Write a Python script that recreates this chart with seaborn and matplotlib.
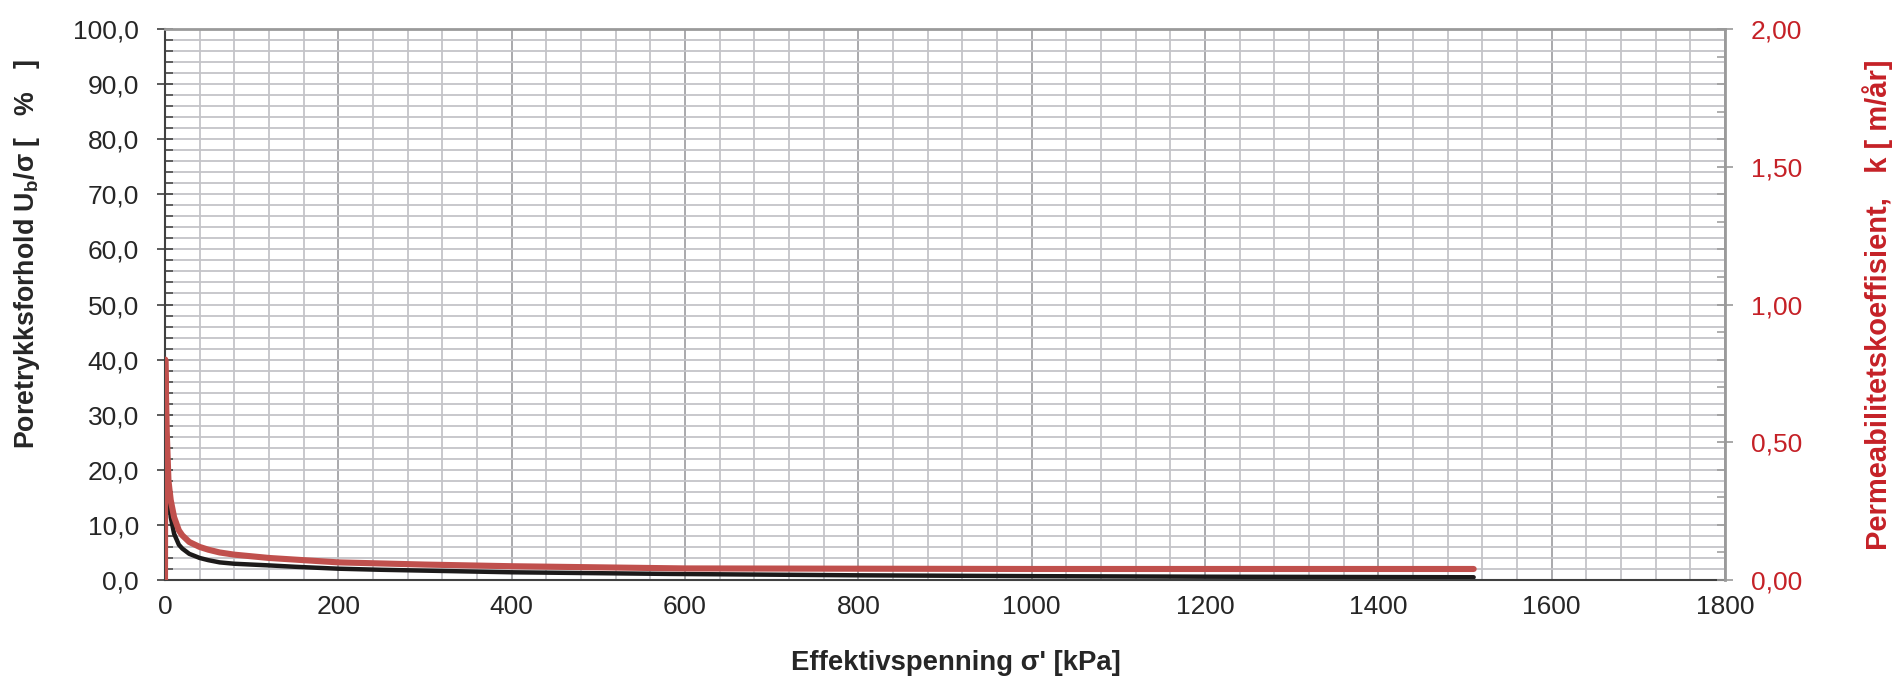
import matplotlib
matplotlib.use("Agg")
import matplotlib.pyplot as plt
import numpy as np
import pandas as pd
import seaborn as sns
from matplotlib.ticker import MultipleLocator, FuncFormatter

# ---- data ----
sigma_pore = [1.5, 3.8, 6.6, 10.5, 16, 20, 28, 40, 50, 63, 80, 100, 120, 150, 200, 250, 300, 400,
              583, 800, 1000, 1200, 1510]
pore_ratio = [18.0, 16.0, 11.4, 8.4, 6.4, 5.7, 4.75, 4.0, 3.6, 3.2, 2.95, 2.8, 2.65, 2.4, 2.05, 1.85,
              1.7, 1.4, 1.1, 0.85, 0.7, 0.6, 0.5]

sigma_perm = [0, 0.3, 2, 4, 6.6, 10.5, 16, 20, 28, 40, 50, 63, 80, 100, 120, 150, 200, 250, 300,
              400, 600, 800, 1000, 1200, 1510]
perm_k = [0.0, 0.80, 0.54, 0.36, 0.29, 0.228, 0.18, 0.162, 0.138, 0.12, 0.11, 0.100, 0.092, 0.086,
          0.080, 0.074, 0.064, 0.060, 0.056, 0.050, 0.042, 0.041, 0.040, 0.040, 0.040]

x_ticks = [0, 200, 400, 600, 800, 1000, 1200, 1400, 1600, 1800]
left_ticks = [0, 10, 20, 30, 40, 50, 60, 70, 80, 90, 100]
right_ticks = [0.0, 0.5, 1.0, 1.5, 2.0]

x_label = "Effektivspenning σ' [kPa]"
left_label = r"Poretrykksforhold U$_\mathbf{b}$/σ [   %   ]"
right_label = "Permeabilitetskoeffisient,   k [ m/år]"

df_pore = pd.DataFrame({"sigma": sigma_pore, "ratio": pore_ratio})
df_perm = pd.DataFrame({"sigma": sigma_perm, "k": perm_k})

sns.set_style("white")
plt.rcParams['font.family'] = ['Liberation Sans', 'DejaVu Sans']
plt.rcParams['mathtext.fontset'] = 'custom'
plt.rcParams['mathtext.rm'] = 'Liberation Sans'
plt.rcParams['mathtext.bf'] = 'Liberation Sans:bold'

RED_LINE = '#C0504D'
RED_TEXT = '#C52127'
DARK = '#262626'
GRID = '#C4C4C8'
GRID_MAJ = '#A3A3A6'

fig = plt.figure(figsize=(18.95, 6.8), dpi=100)
ax = fig.add_axes([165 / 1895, 1 - 580 / 680, (1725 - 165) / 1895, (580 - 29) / 680])
ax2 = ax.twinx()

sns.lineplot(data=df_pore, x="sigma", y="ratio", ax=ax, color='#1c1a1a', lw=3.2,
             sort=False, estimator=None, solid_capstyle='round', solid_joinstyle='round')
sns.lineplot(data=df_perm, x="sigma", y="k", ax=ax2, color=RED_LINE, lw=4.4,
             sort=False, estimator=None, solid_capstyle='round', solid_joinstyle='round')

ax.set_xlim(0, 1800)
ax.set_ylim(0, 100)
ax2.set_ylim(0, 2)

ax.set_xticks(x_ticks)
ax.set_yticks(left_ticks)
ax2.set_yticks(right_ticks)
ax.xaxis.set_minor_locator(MultipleLocator(40))
ax.yaxis.set_minor_locator(MultipleLocator(2))
ax2.yaxis.set_minor_locator(MultipleLocator(0.1))

ax.xaxis.set_major_formatter(FuncFormatter(lambda v, p: f"{v:.0f}"))
ax.yaxis.set_major_formatter(FuncFormatter(lambda v, p: f"{v:.1f}".replace('.', ',')))
ax2.yaxis.set_major_formatter(FuncFormatter(lambda v, p: f"{v:.2f}".replace('.', ',')))

# grid
ax.set_axisbelow(True)
ax.grid(which='minor', color=GRID, lw=1.3)
ax.grid(which='major', axis='y', color=GRID, lw=1.3)
ax.grid(which='major', axis='x', color=GRID_MAJ, lw=1.3)
ax2.grid(False)

# ticks
ax.tick_params(axis='both', which='major', direction='inout', length=11.5, width=1.2,
               color='#404040', labelcolor=DARK, labelsize=19)
ax.tick_params(axis='y', which='major', pad=13)
ax.tick_params(axis='x', which='major', pad=5)
ax.tick_params(axis='both', which='minor', direction='in', length=5.5, width=1.1, color='#404040')
ax2.tick_params(axis='y', which='major', direction='inout', length=11.5, width=1.2,
                color='#9a9a9a', labelcolor=RED_TEXT, labelsize=19, pad=13)
ax2.tick_params(axis='y', which='minor', direction='in', length=5.5, width=1.1, color='#9a9a9a')

# spines
for s in ['left', 'bottom']:
    ax.spines[s].set_color('#404040')
    ax.spines[s].set_linewidth(1.5)
    ax2.spines[s].set_visible(False)
ax.spines['right'].set_visible(False)
ax.spines['top'].set_visible(False)
for s in ['top', 'right']:
    ax2.spines[s].set_color('#9a9a9a')
    ax2.spines[s].set_linewidth(2)

# labels
ax.set_xlabel(x_label, fontsize=19.8, fontweight='bold', color=DARK)
ax.xaxis.set_label_coords(0.507, -0.151)
ax.xaxis.label.set_va('center')

ax.set_ylabel(left_label, fontsize=19.3, fontweight='bold', color=DARK)
ax.yaxis.set_label_coords(-0.0885, 0.592)
ax.yaxis.label.set_va('center')

ax2.set_ylabel(right_label, fontsize=21, fontweight='bold', color=RED_TEXT, rotation=90)
ax2.yaxis.set_label_coords(1.098, 0.5)
ax2.yaxis.label.set_va('center')

fig.savefig("out.png", dpi=100)
